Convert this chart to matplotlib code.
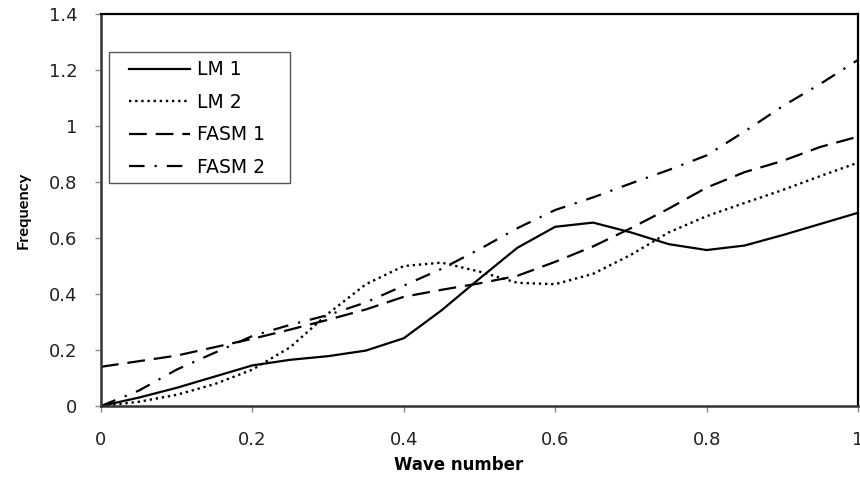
import matplotlib
matplotlib.use('Agg')
import matplotlib.pyplot as plt
from matplotlib.patches import Rectangle

plt.rcParams['font.family'] = ['DejaVu Sans']

# Wave number samples
wave = [0, 0.05, 0.1, 0.15, 0.2, 0.25, 0.3, 0.35, 0.4, 0.45, 0.5,
        0.55, 0.6, 0.65, 0.7, 0.75, 0.8, 0.85, 0.9, 0.95, 1.0]

# Frequency values
lm1 = [0, 0.03, 0.065, 0.105, 0.145, 0.165, 0.178, 0.198, 0.242, 0.342, 0.455,
       0.565, 0.64, 0.655, 0.62, 0.578, 0.557, 0.573, 0.61, 0.65, 0.69]
lm2 = [0, 0.015, 0.04, 0.078, 0.13, 0.21, 0.33, 0.435, 0.5, 0.512, 0.48,
       0.44, 0.435, 0.472, 0.54, 0.62, 0.678, 0.725, 0.771, 0.821, 0.869]
fasm1 = [0.14, 0.16, 0.18, 0.21, 0.24, 0.273, 0.308, 0.345, 0.39, 0.415, 0.438,
         0.465, 0.515, 0.57, 0.635, 0.705, 0.78, 0.835, 0.875, 0.925, 0.962]
fasm2 = [0, 0.055, 0.13, 0.19, 0.25, 0.29, 0.325, 0.37, 0.43, 0.49, 0.56,
         0.635, 0.7, 0.745, 0.795, 0.843, 0.895, 0.98, 1.07, 1.15, 1.236]

fig = plt.figure(figsize=(8.6, 4.79), dpi=100)
ax = fig.add_axes([101 / 860, 73 / 479, 757 / 860, 392 / 479])

ax.plot(wave, lm1, color='black', lw=1.6, linestyle='-', label='LM 1')
ax.plot(wave, lm2, color='black', lw=1.7, linestyle=(0, (1, 1.6)), label='LM 2')
ax.plot(wave, fasm1, color='black', lw=1.6, linestyle=(0, (8, 4)), label='FASM 1')
ax.plot(wave, fasm2, color='black', lw=1.6, linestyle=(0, (7, 4.5, 1, 4.5)), label='FASM 2')

ax.set_xlim(0, 1)
ax.set_ylim(0, 1.4)
ax.set_xticks([0, 0.2, 0.4, 0.6, 0.8, 1])
ax.set_xticklabels(['0', '0.2', '0.4', '0.6', '0.8', '1'])
ax.set_yticks([0, 0.2, 0.4, 0.6, 0.8, 1, 1.2, 1.4])
ax.set_yticklabels(['0', '0.2', '0.4', '0.6', '0.8', '1', '1.2', '1.4'])
ax.tick_params(direction='out', length=4, width=1, color='#888888',
               labelsize=13, labelcolor='#222222')
ax.tick_params(axis='x', pad=14)
ax.tick_params(axis='y', pad=13)

for side in ['top', 'right']:
    ax.spines[side].set_color('black')
    ax.spines[side].set_linewidth(1.6)
for side in ['left', 'bottom']:
    ax.spines[side].set_color('#333333')
    ax.spines[side].set_linewidth(1.8)

ax.set_xlabel('Wave number', fontsize=12, fontweight='bold')
ax.xaxis.set_label_coords(0.473, -0.128)
ax.set_ylabel('Frequency', fontsize=11.8, fontweight='bold', family=['Lato', 'DejaVu Sans'])
ax.yaxis.set_label_coords(-0.0925, 0.5)

# legend box drawn separately so its padding can differ in x and y
box = Rectangle((0.0106, 0.569), 0.239, 0.334, transform=ax.transAxes,
                facecolor='white', edgecolor='#555555', lw=1.0, zorder=4)
ax.add_patch(box)
leg = ax.legend(loc='upper left', bbox_to_anchor=(0.037, 0.882),
                fontsize=13.5, handlelength=3.25, labelspacing=0.72,
                borderpad=0, handletextpad=0.4, frameon=False, borderaxespad=0)
leg.set_zorder(5)

fig.savefig('out.png', dpi=100)
